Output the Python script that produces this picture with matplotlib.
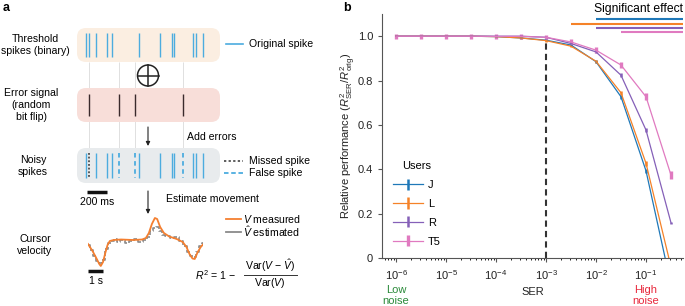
import numpy as np
import matplotlib.pyplot as plt
from matplotlib.patches import FancyBboxPatch, Circle
from matplotlib.transforms import blended_transform_factory

plt.rcParams['font.family'] = ['Liberation Sans', 'DejaVu Sans']
plt.rcParams['font.size'] = 8
plt.rcParams['mathtext.fontset'] = 'custom'
plt.rcParams['mathtext.rm'] = 'Liberation Sans'
plt.rcParams['mathtext.it'] = 'Liberation Sans:italic'
plt.rcParams['mathtext.bf'] = 'Liberation Sans:bold'

# ---- panel b data ----
ser = [1e-6, 3.16e-6, 1e-5, 3.16e-5, 1e-4, 3.16e-4, 1e-3, 3.16e-3, 1e-2, 3.16e-2, 1e-1, 3.16e-1]
users = ['J', 'L', 'R', 'T5']
perf_J = [1.0, 1.0, 1.0, 1.0, 0.998, 0.992, 0.982, 0.96, 0.885, 0.727, 0.393, -0.12]
perf_L = [1.0, 1.0, 1.0, 1.0, 0.998, 0.992, 0.98, 0.955, 0.887, 0.745, 0.427, -0.04]
perf_R = [1.0, 1.0, 1.0, 1.0, 1.0, 1.0, 0.995, 0.967, 0.929, 0.824, 0.577, 0.159]
perf_T5 = [1.0, 1.0, 1.0, 1.0, 0.999, 0.999, 0.995, 0.974, 0.937, 0.87, 0.727, 0.374]
err_J = [0.002, 0.002, 0.002, 0.002, 0.002, 0.003, 0.004, 0.005, 0.006, 0.009, 0.01, 0.01]
err_L = [0.002, 0.002, 0.002, 0.002, 0.002, 0.003, 0.004, 0.005, 0.006, 0.009, 0.01, 0.01]
err_R = [0.003, 0.003, 0.003, 0.003, 0.003, 0.004, 0.005, 0.006, 0.007, 0.008, 0.011, 0.005]
err_T5 = [0.012, 0.012, 0.012, 0.012, 0.012, 0.012, 0.012, 0.012, 0.012, 0.014, 0.016, 0.018]
sig_start = [1e-2, 3.16e-3, 1e-2, 3.16e-2]
sig_level = [1.078, 1.057, 1.038, 1.017]
colors = ['#1f78b8', '#f58228', '#8560b8', '#e07ac0']

# ---- panel a data ----
window_ms = 1430
spike_times = [90, 120, 190, 300, 350, 620, 830, 950, 970, 1160, 1190, 1260]
error_times = [120, 420, 580, 1060]
t_meas = [0.0, 0.3, 0.55, 0.75, 0.85, 1.0, 1.15, 1.3, 1.45, 1.7, 2.2, 3.0, 3.6, 3.85, 4.05,
          4.25, 4.45, 4.6, 4.8, 5.05, 5.4, 5.9, 6.3, 6.55, 6.75, 6.95, 7.1, 7.3, 7.5, 7.65]
v_meas = [-0.4, -1.1, -1.8, -2.4, -2.6, -2.2, -1.3, -0.5, -0.1, 0.0, 0.05, 0.0, 0.05, 0.2, 0.7,
          1.6, 2.2, 2.1, 1.3, 0.7, 0.35, 0.1, -0.2, -0.7, -1.4, -1.85, -1.9, -1.2, -0.7, -0.45]
t_est = [0.0, 0.2, 0.4, 0.6, 0.8, 1.0, 1.2, 1.4, 1.6, 1.8, 2.0, 2.3, 2.6, 2.9, 3.2, 3.5, 3.8,
         4.0, 4.2, 4.4, 4.6, 4.8, 5.0, 5.3, 5.6, 5.9, 6.2, 6.5, 6.7, 6.9, 7.1, 7.3, 7.5, 7.65]
v_est = [-0.5, -1.0, -1.6, -2.1, -2.3, -2.0, -0.9, -0.3, -0.1, 0.1, -0.2, 0.0, -0.3, -0.1, 0.1,
         -0.2, 0.05, 0.3, 0.9, 1.2, 1.3, 0.9, 0.5, 0.4, 0.2, 0.3, -0.1, -0.6, -1.2, -1.6, -1.7,
         -1.2, -0.6, -0.3]

W, H = 685, 306
FS_A = 7.6


def px_rect(x0, y0, x1, y1):
    return [x0 / W, 1 - y1 / H, (x1 - x0) / W, (y1 - y0) / H]


fig = plt.figure(figsize=(W / 100, H / 100), dpi=100)

# ---------------- panel a ----------------
ax_a = fig.add_axes([0, 0, 340 / W, 1])
ax_a.set_xlim(0, 340)
ax_a.set_ylim(H, 0)
ax_a.axis('off')

blue = '#4cacdf'
dark = '#3a2a2c'
ax_a.text(3, 8, 'a', fontsize=9, fontweight='bold', va='center')
ax_a.text(35.5, 45, 'Threshold\nspikes (binary)', ha='center', va='center', linespacing=1.2, fontsize=FS_A)
ax_a.text(31, 105, 'Error signal\n(random\nbit flip)', ha='center', va='center', linespacing=1.2, fontsize=FS_A)
ax_a.text(33, 166, 'Noisy\nspikes', ha='center', va='center', linespacing=1.2, fontsize=FS_A)
ax_a.text(35, 245, 'Cursor\nvelocity', ha='center', va='center', linespacing=1.2, fontsize=FS_A)

ax_a.plot([226, 243], [44, 44], color=blue, lw=1.2)
ax_a.text(249, 44, 'Original spike', va='center', fontsize=FS_A)
ax_a.plot([224, 243], [161, 161], color='#333333', lw=1.1, ls=(0, (1.5, 1.5)))
ax_a.text(249, 161, 'Missed spike', va='center', fontsize=FS_A)
ax_a.plot([224, 243], [173, 173], color=blue, lw=1.3, ls=(0, (2.5, 1.5)))
ax_a.text(249, 173, 'False spike', va='center', fontsize=FS_A)

ax_a.add_patch(Circle((148, 75.5), 10.5, fill=False, ec='#222222', lw=1.1))
ax_a.plot([137.5, 158.5], [75.5, 75.5], color='#222222', lw=1.1)
ax_a.plot([148, 148], [65, 86], color='#222222', lw=1.1)

arrow = dict(arrowstyle='-|>', lw=0.8, color='#222222', mutation_scale=6, shrinkA=0, shrinkB=0)
ax_a.annotate('', xy=(148, 146), xytext=(148, 127), arrowprops=arrow)
ax_a.text(187, 137, 'Add errors', va='center', fontsize=FS_A)
ax_a.annotate('', xy=(148, 214), xytext=(148, 191), arrowprops=arrow)
ax_a.text(166, 199, 'Estimate movement', va='center', fontsize=FS_A)

ax_a.plot([226, 241], [219, 219], color='#f47f30', lw=1.3)
ax_a.text(243, 219, '$V$ measured', va='center', fontsize=FS_A)
ax_a.plot([226, 241], [232, 232], color='#8a8a8a', lw=1.3)
ax_a.text(243, 232, r'$\hat{V}$ estimated', va='center', fontsize=FS_A)

ax_a.text(236, 275, '$R^2$ = 1 \u2212', ha='right', va='center', fontsize=FS_A)
ax_a.plot([244, 297], [275, 275], color='#333333', lw=0.7)
ax_a.text(270, 266, 'Var($V$ \u2212 $\\hat{V}$)', ha='center', va='center', fontsize=FS_A)
ax_a.text(270, 283, 'Var($V$)', ha='center', va='center', fontsize=FS_A)

# spike rasters
ax_r = fig.add_axes(px_rect(77, 28, 220, 205))
ax_r.set_xlim(0, window_ms)
ax_r.set_ylim(205, 28)
ax_r.axis('off')
ax_r.patch.set_visible(False)

rows = [(28, 62, '#fbeee1'), (88, 122, '#f8ded9'), (148, 183, '#e8ebed')]
for y0, y1, fc in rows:
    ax_r.add_patch(FancyBboxPatch((0, y0), window_ms, y1 - y0,
                                  boxstyle='round,pad=0,rounding_size=90',
                                  mutation_aspect=0.1, fc=fc, ec='none', zorder=1))

ax_r.vlines(error_times, 62, 148, color='#dadada', lw=0.6, zorder=0)
ax_r.vlines(spike_times, 33, 57, color=blue, lw=1.0, zorder=2)
ax_r.vlines(error_times, 94, 116, color=dark, lw=1.0, zorder=2)

kept = [t for t in spike_times if t not in error_times]
missed = [t for t in spike_times if t in error_times]
false = [t for t in error_times if t not in spike_times]
ax_r.vlines(kept, 153, 178, color=blue, lw=1.0, zorder=2)
ax_r.vlines(false, 153, 178, color=blue, lw=1.3, linestyles=(0, (2.5, 2)), zorder=2)
ax_r.vlines(missed, 153, 178, color='#333333', lw=1.1, linestyles=(0, (1.2, 1.2)), zorder=2)

ax_r.plot([100, 300], [192, 192], color='#111111', lw=2.5, solid_capstyle='butt')
ax_r.text(200, 202, '200 ms', ha='center', va='center', fontsize=FS_A)

# velocity trace
ax_v = fig.add_axes(px_rect(88, 210, 203, 270))
ax_v.set_xlim(0, 7.65)
ax_v.set_ylim(-3, 3)
ax_v.axis('off')
ax_v.patch.set_visible(False)
ax_v.plot(t_est, v_est, color='#8a8a8a', lw=1.2, ls=(0, (3, 1.2)), drawstyle='steps-mid')
ax_v.plot(t_meas, v_meas, color='#f47f30', lw=1.3)
ax_v.plot([0, 1], [-3.1, -3.1], color='#111111', lw=2.5, solid_capstyle='butt', clip_on=False)
ax_v.text(0.5, -4.1, '1 s', ha='center', va='center', fontsize=FS_A)

# ---------------- panel b ----------------
ax_b = fig.add_axes(px_rect(382, 14, 683, 258))
perfs = [perf_J, perf_L, perf_R, perf_T5]
errs = [err_J, err_L, err_R, err_T5]
for name, perf, err, c in zip(users, perfs, errs, colors):
    ew = 2.4 if name == 'T5' else 1.8
    ax_b.errorbar(ser, perf, yerr=err, color=c, lw=0.9, elinewidth=ew, capsize=0, label=name)

ax_b.set_xscale('log')
ax_b.set_xlim(10 ** -6.28, 10 ** -0.26)
ax_b.set_ylim(0, 1.1)
ax_b.set_yticks([0, 0.2, 0.4, 0.6, 0.8, 1.0])
ax_b.set_yticklabels(['0', '0.2', '0.4', '0.6', '0.8', '1.0'])
ax_b.set_xticks([1e-6, 1e-5, 1e-4, 1e-3, 1e-2, 1e-1])
ax_b.vlines(1e-3, 0, 0.98, color='#333333', lw=1.5, linestyles=(0, (3, 2)))

for s, lev, c in zip(sig_start, sig_level, colors):
    ax_b.hlines(lev, s, 10 ** -0.26, color=c, lw=1.5, clip_on=False)
ax_b.text(1.0, 1.02, 'Significant effect', transform=ax_b.transAxes, ha='right', va='center',
          fontsize=8.7)

for side in ['top', 'right']:
    ax_b.spines[side].set_visible(False)
for side in ['left', 'bottom']:
    ax_b.spines[side].set_color('#555555')
    ax_b.spines[side].set_linewidth(0.8)
ax_b.tick_params(colors='#555555', labelcolor='#222222', length=3, width=0.8)
ax_b.tick_params(axis='x', pad=4.5)
ax_b.tick_params(which='minor', length=1.5, width=0.6)

ax_b.set_ylabel(r'Relative performance ($R^2_{\mathrm{SER}}/R^2_{\mathrm{orig}}$)', color='#222222')
ax_b.yaxis.set_label_coords(-0.08, 0.5)
ax_b.set_xlabel('SER', color='#222222')
ax_b.xaxis.set_label_coords(0.5, -0.12)

tr = blended_transform_factory(ax_b.transData, ax_b.transAxes)
ax_b.text(1e-6, -0.11, 'Low\nnoise', transform=tr, ha='center', va='top', color='#2a8a3a', linespacing=1.1)
ax_b.text(1e-1, -0.11, 'High\nnoise', transform=tr, ha='center', va='top', color='#e8283c', linespacing=1.1)

leg = ax_b.legend(title='Users', loc='upper left', bbox_to_anchor=(0.035, 0.397), frameon=False,
                  handlelength=2.7, handletextpad=0.5, labelspacing=0.8, borderpad=0, borderaxespad=0)
fig.text(343 / W, 1 - 8 / H, 'b', fontsize=9, fontweight='bold', va='center')

fig.savefig('out.png', dpi=100)
